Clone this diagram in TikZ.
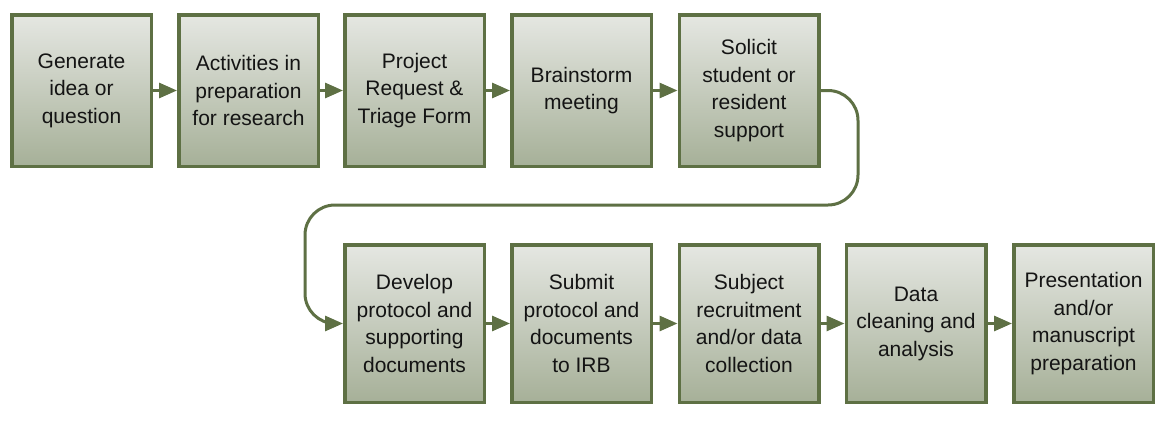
\documentclass[tikz,border=0pt]{standalone}
\usepackage{fontspec}
\setmainfont{Liberation Sans}
\usetikzlibrary{arrows.meta}
\definecolor{olive}{RGB}{94,112,68}
\definecolor{boxtop}{RGB}{229,231,226}
\definecolor{boxbot}{RGB}{166,176,152}
\definecolor{txt}{RGB}{20,20,20}
\begin{document}
\begin{tikzpicture}[x=1pt,y=-1pt,
  stepbox/.style={draw=olive,line width=3.5pt,top color=boxtop,bottom color=boxbot,
    minimum width=139.5pt,inner sep=0pt,align=center,text=txt,
    font=\fontsize{21}{27.5}\selectfont},
  toprow/.style={stepbox,minimum height=151.5pt},
  botrow/.style={stepbox,minimum height=157.5pt},
  flow/.style={draw=olive,line width=3pt,-{Triangle[length=18pt,width=15pt]}}]
\useasboundingbox (0,0) rectangle (1168,423);
\node[toprow] (b1) at (81.5,90.5) {Generate\\idea or\\question};
\node[toprow] (b2) at (248.5,90.5) {Activities in\\preparation\\for research};
\node[toprow] (b3) at (414.5,90.5) {Project\\Request \&\\Triage Form};
\node[toprow] (b4) at (581.5,90.5) {Brainstorm\\meeting};
\node[toprow] (b5) at (749,90.5) {Solicit\\student or\\resident\\support};
\node[botrow] (b6) at (414.5,323.5) {Develop\\protocol and\\supporting\\documents};
\node[botrow] (b7) at (581.5,323.5) {Submit\\protocol and\\documents\\to IRB};
\node[botrow] (b8) at (749,323.5) {Subject\\recruitment\\and/or data\\collection};
\node[botrow] (b9) at (916,323.5) {Data\\cleaning and\\analysis};
\node[botrow] (b10) at (1083.5,323.5) {Presentation\\and/or\\manuscript\\preparation};
\draw[flow] (b1) -- (b2);
\draw[flow] (b2) -- (b3);
\draw[flow] (b3) -- (b4);
\draw[flow] (b4) -- (b5);
\coordinate (c1) at (858,205);
\coordinate (c2) at (305,205);
\draw[flow,rounded corners=30pt] (b5.east) -| (c1) -- (c2) |- (b6.west);
\draw[flow] (b6) -- (b7);
\draw[flow] (b7) -- (b8);
\draw[flow] (b8) -- (b9);
\draw[flow] (b9) -- (b10);
\end{tikzpicture}
\end{document}
